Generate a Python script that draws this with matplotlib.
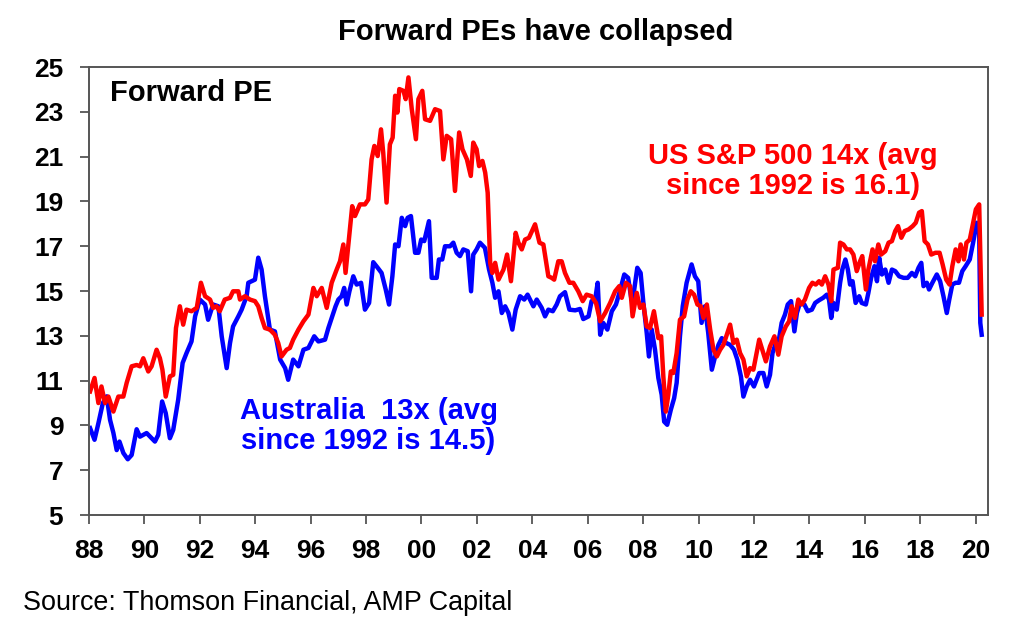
import matplotlib
matplotlib.use("Agg")
import matplotlib.pyplot as plt

# ---- data (decimal year, forward PE) ----
aus_years = [1988.04, 1988.2, 1988.34, 1988.5, 1988.64, 1988.76, 1988.88, 1989.0, 1989.1, 1989.24,
             1989.4, 1989.54, 1989.72, 1989.84, 1990.08, 1990.26, 1990.38, 1990.5, 1990.64, 1990.77,
             1990.92, 1991.04, 1991.22, 1991.38, 1991.52, 1991.7, 1991.83, 1992.0, 1992.19, 1992.3,
             1992.48, 1992.67, 1992.79, 1992.97, 1993.09, 1993.2, 1993.39, 1993.51, 1993.69, 1993.75,
             1993.99, 1994.11, 1994.23, 1994.35, 1994.53, 1994.71, 1994.9, 1995.08, 1995.19, 1995.37,
             1995.56, 1995.74, 1995.92,
             1996.13, 1996.28, 1996.52, 1996.64, 1996.76, 1996.9, 1997.0, 1997.12, 1997.21, 1997.3,
             1997.4, 1997.54, 1997.66, 1997.82, 1997.96, 1998.11, 1998.26, 1998.42, 1998.56, 1998.71,
             1998.83, 1998.95, 1999.05, 1999.17, 1999.29, 1999.41, 1999.5, 1999.62, 1999.77, 1999.89,
             1999.99, 2000.1, 2000.27, 2000.37, 2000.55, 2000.63, 2000.75, 2000.85, 2001.03, 2001.15,
             2001.27, 2001.39, 2001.51, 2001.67, 2001.79, 2001.87, 2001.99, 2002.11, 2002.29, 2002.44,
             2002.56, 2002.66, 2002.78, 2002.9, 2003.02, 2003.14, 2003.28, 2003.4, 2003.56, 2003.71,
             2003.83,
             2004.04, 2004.16, 2004.34, 2004.46, 2004.58, 2004.74, 2004.88, 2005.0, 2005.18, 2005.34,
             2005.55, 2005.72, 2005.84, 2006.03, 2006.14, 2006.26, 2006.36, 2006.45, 2006.56, 2006.71,
             2006.87, 2007.02, 2007.16, 2007.32, 2007.46, 2007.58, 2007.67, 2007.79, 2007.91, 2008.01,
             2008.13, 2008.21, 2008.31, 2008.43, 2008.55, 2008.67, 2008.76, 2008.87, 2009.0, 2009.12,
             2009.21, 2009.33, 2009.43, 2009.57, 2009.75, 2009.87, 2009.99, 2010.11, 2010.23, 2010.35,
             2010.48, 2010.6, 2010.72, 2010.84, 2011.0, 2011.14, 2011.28, 2011.4, 2011.53, 2011.62,
             2011.74, 2011.86, 2012.0,
             2012.19, 2012.34, 2012.46, 2012.58, 2012.67, 2012.79, 2012.91, 2013.0, 2013.12, 2013.22,
             2013.34, 2013.46, 2013.55, 2013.66, 2013.82, 2013.94, 2014.09, 2014.21, 2014.35, 2014.5,
             2014.63, 2014.71, 2014.79, 2014.87, 2014.99, 2015.11, 2015.19, 2015.3, 2015.39, 2015.47,
             2015.56, 2015.67, 2015.8, 2015.89, 2016.04, 2016.13, 2016.23, 2016.35, 2016.44, 2016.52,
             2016.62, 2016.74, 2016.86, 2016.98, 2017.1, 2017.24, 2017.4, 2017.55, 2017.7, 2017.82,
             2017.94, 2018.04, 2018.12, 2018.24, 2018.32, 2018.44, 2018.6, 2018.72, 2018.84, 2018.96,
             2019.05, 2019.16, 2019.28, 2019.4, 2019.52, 2019.64, 2019.79, 2019.91, 2020.04, 2020.13,
             2020.17, 2020.22]
aus_pe = [8.88, 8.36, 9.1, 10.0, 10.3, 9.25, 8.67, 7.9, 8.28, 7.77,
          7.49, 7.68, 8.83, 8.5, 8.66, 8.43, 8.28, 8.58, 10.07, 9.55,
          8.43, 8.8, 10.15, 11.79, 12.23, 12.75, 13.87, 14.62, 14.4, 13.72,
          14.4, 14.32, 12.98, 11.56, 12.68, 13.42, 13.87, 14.17, 14.77, 15.37,
          15.51, 16.49, 15.96, 14.77, 13.28, 13.2, 11.94, 11.56, 11.04, 11.94,
          11.64, 12.38, 12.46,
          12.98, 12.75, 12.83, 13.35, 13.8, 14.32, 14.62, 14.77, 15.14, 14.4,
          14.99, 15.66, 15.29, 15.37, 14.17, 14.47, 16.29, 16.04, 15.81, 15.07,
          14.4, 15.66, 17.08, 17.0, 18.27, 17.9, 18.27, 18.35, 16.71, 16.71,
          17.3, 17.23, 18.12, 15.59, 15.59, 16.41, 16.41, 17.0, 17.0, 17.16,
          16.71, 16.56, 16.86, 16.78, 14.99, 16.63, 16.86, 17.16, 16.93, 15.96,
          15.37, 14.7, 14.99, 14.02, 14.32, 14.02, 13.28, 14.17, 14.77, 14.62,
          14.84,
          14.32, 14.62, 14.25, 13.87, 14.17, 14.1, 14.4, 14.77, 14.95, 14.17,
          14.14, 14.2, 13.75, 13.87, 14.55, 14.55, 15.37, 13.05, 13.58, 13.28,
          14.1, 14.4, 14.99, 15.74, 15.59, 14.62, 14.99, 16.04, 15.81, 14.47,
          13.13, 12.08, 13.28, 12.38, 11.12, 10.37, 9.17, 9.03, 9.7, 10.22,
          10.9, 12.98, 14.32, 15.37, 16.19, 15.66, 15.44, 13.58, 14.32, 13.13,
          11.49, 12.08, 12.6, 12.9, 12.68, 12.6, 12.38, 11.94, 11.19, 10.29,
          10.74, 11.04, 10.74,
          11.34, 11.34, 10.74, 11.26, 12.23, 12.68, 12.9, 13.58, 13.95, 14.4,
          14.55, 13.2, 14.02, 14.47, 14.4, 14.1, 14.17, 14.47, 14.59, 14.7,
          14.84, 14.62, 13.8, 14.47, 14.17, 15.37, 15.96, 16.41, 15.96, 15.29,
          15.44, 14.47, 14.77, 14.47, 14.4, 14.92, 15.59, 16.11, 15.44, 16.49,
          15.74, 15.96, 15.37, 15.96, 15.89, 15.66, 15.59, 15.59, 15.81, 15.66,
          16.04, 16.26, 15.22, 15.37, 15.07, 15.37, 15.74, 15.44, 14.77, 14.02,
          14.62, 15.29, 15.37, 15.37, 15.89, 16.11, 16.41, 17.16, 18.05, 17.6,
          13.58, 13.05]

us_years = [1988.04, 1988.2, 1988.34, 1988.45, 1988.58, 1988.7, 1988.88, 1989.06, 1989.24, 1989.36,
            1989.54, 1989.72, 1989.84, 1989.96, 1990.14, 1990.26, 1990.44, 1990.56, 1990.65, 1990.77,
            1990.92, 1991.04, 1991.14, 1991.28, 1991.4, 1991.52, 1991.7, 1991.89, 1992.04, 1992.19,
            1992.37, 1992.48, 1992.6, 1992.72, 1992.9, 1993.09, 1993.2, 1993.39, 1993.45, 1993.63,
            1993.81, 1993.99, 1994.11, 1994.23, 1994.35, 1994.53, 1994.71, 1994.83, 1994.95, 1995.13,
            1995.25, 1995.37, 1995.56, 1995.74, 1995.92,
            1996.1, 1996.22, 1996.4, 1996.58, 1996.76, 1996.94, 1997.06, 1997.18, 1997.26, 1997.38,
            1997.5, 1997.6, 1997.78, 1997.96, 1998.08, 1998.2, 1998.3, 1998.42, 1998.54, 1998.62,
            1998.74, 1998.86, 1998.96, 1999.05, 1999.13, 1999.2, 1999.35, 1999.43, 1999.53, 1999.65,
            1999.8, 1999.89, 2000.03, 2000.13, 2000.31, 2000.49, 2000.67, 2000.79, 2000.91, 2001.07,
            2001.21, 2001.36, 2001.48, 2001.64, 2001.78, 2001.87, 2001.99, 2002.08, 2002.2, 2002.3,
            2002.39, 2002.48, 2002.56, 2002.66, 2002.78, 2002.96, 2003.09, 2003.23, 2003.4, 2003.5,
            2003.62, 2003.74, 2003.88,
            2004.1, 2004.26, 2004.4, 2004.58, 2004.7, 2004.79, 2004.94, 2005.06, 2005.18, 2005.34,
            2005.48, 2005.66, 2005.82, 2005.96, 2006.14, 2006.3, 2006.45, 2006.63, 2006.81, 2006.99,
            2007.14, 2007.23, 2007.38, 2007.53, 2007.62, 2007.77, 2007.89, 2008.01, 2008.13, 2008.25,
            2008.39, 2008.55, 2008.65, 2008.73, 2008.82, 2008.91, 2009.0, 2009.09, 2009.21, 2009.33,
            2009.48, 2009.6, 2009.72, 2009.84, 2009.96, 2010.08, 2010.18, 2010.3, 2010.42, 2010.54,
            2010.66, 2010.78, 2010.9, 2011.02, 2011.14, 2011.26, 2011.38, 2011.5, 2011.62, 2011.74,
            2011.86, 2011.98,
            2012.19, 2012.3, 2012.43, 2012.58, 2012.74, 2012.88, 2013.0, 2013.15, 2013.27, 2013.36,
            2013.48, 2013.6, 2013.72, 2013.84, 2013.99, 2014.11, 2014.23, 2014.35, 2014.45, 2014.57,
            2014.69, 2014.79, 2014.87, 2015.03, 2015.11, 2015.23, 2015.35, 2015.47, 2015.59, 2015.71,
            2015.83, 2015.91, 2016.04, 2016.13, 2016.28, 2016.37, 2016.49, 2016.59, 2016.74, 2016.86,
            2016.98, 2017.1, 2017.2, 2017.32, 2017.44, 2017.58, 2017.73, 2017.84, 2017.96, 2018.06,
            2018.16, 2018.28, 2018.4, 2018.55, 2018.7, 2018.81, 2018.94, 2019.06, 2019.16, 2019.28,
            2019.38, 2019.46, 2019.58, 2019.67, 2019.79, 2019.91, 2020.01, 2020.13, 2020.22]
us_pe = [10.52, 11.12, 10.0, 10.74, 10.0, 10.29, 9.62, 10.29, 10.29, 10.9,
         11.64, 11.7, 11.64, 12.0, 11.41, 11.64, 12.38, 12.0, 11.49, 10.29,
         11.19, 11.26, 13.35, 14.32, 13.5, 14.17, 14.1, 14.25, 15.37, 14.77,
         14.62, 14.25, 14.32, 14.1, 14.62, 14.7, 14.99, 14.99, 14.62, 14.77,
         14.62, 14.55, 14.32, 13.8, 13.35, 13.28, 13.05, 12.68, 12.08, 12.38,
         12.46, 12.83, 13.28, 13.65, 13.95,
         15.14, 14.77, 15.14, 14.25, 15.37, 15.96, 16.33, 17.08, 15.81, 17.3,
         18.79, 18.35, 18.87, 18.87, 19.09, 20.88, 21.48, 21.03, 22.22, 21.18,
         18.95, 21.55, 21.85, 23.72, 22.97, 24.02, 23.94, 23.57, 24.54, 23.12,
         21.78, 23.57, 23.94, 22.67, 22.6, 23.12, 23.04, 20.88, 21.93, 21.78,
         19.47, 22.08, 21.33, 20.88, 20.14, 21.63, 21.33, 20.58, 20.81, 20.29,
         19.39, 16.26, 15.81, 16.26, 15.51, 15.96, 16.63, 15.44, 17.6, 17.16,
         16.86, 17.3, 17.38,
         17.98, 17.16, 17.08, 15.66, 15.59, 15.51, 16.33, 16.33, 15.81, 15.37,
         15.37, 14.99, 14.55, 14.84, 14.77, 14.47, 13.65, 14.02, 14.47, 14.99,
         15.22, 14.7, 15.37, 15.22, 13.87, 14.92, 14.25, 14.4, 13.42, 13.35,
         14.1, 12.9, 12.98, 11.19, 9.62, 10.37, 11.41, 11.34, 12.23, 13.72,
         13.87, 14.62, 14.99, 14.84, 14.4, 14.32, 13.8, 14.4, 13.28, 12.38,
         12.08, 12.38, 12.6, 13.05, 13.5, 12.68, 12.83, 12.23, 11.94, 11.19,
         11.56, 11.49,
         12.83, 12.38, 11.86, 12.53, 12.98, 12.16, 12.98, 13.42, 13.65, 14.32,
         13.8, 14.62, 14.4, 14.62, 15.14, 15.37, 15.29, 15.44, 15.29, 15.66,
         15.29, 14.55, 15.96, 16.04, 17.16, 17.08, 16.86, 16.86, 16.63, 15.89,
         16.33, 16.56, 15.07, 15.96, 16.86, 16.33, 17.08, 16.63, 16.78, 17.16,
         17.23, 17.68, 17.9, 17.38, 17.68, 17.75, 17.9, 18.05, 18.5, 18.57,
         17.23, 17.08, 16.63, 16.71, 16.71, 16.19, 15.51, 15.29, 16.11, 16.86,
         16.33, 17.08, 16.41, 17.16, 17.3, 18.05, 18.65, 18.87, 13.95]

y_ticks = [5, 7, 9, 11, 13, 15, 17, 19, 21, 23, 25]
x_ticks = list(range(1988, 2021, 2))
x_labels = ["88", "90", "92", "94", "96", "98", "00", "02", "04", "06",
            "08", "10", "12", "14", "16", "18", "20"]

plt.rcParams['font.family'] = ['Liberation Sans', 'DejaVu Sans']

fig = plt.figure(figsize=(10.24, 6.39), dpi=100)
ax = fig.add_axes([0.0869, 0.194, 0.878, 0.701])

ax.plot(aus_years, aus_pe, color='#0000ff', lw=3.2, solid_joinstyle='round')
ax.plot(us_years, us_pe, color='#ff0000', lw=3.2, solid_joinstyle='round')

ax.set_xlim(1988, 2020.45)
ax.set_ylim(5, 25)
ax.set_yticks(y_ticks)
ax.set_yticklabels([str(v) for v in y_ticks], fontsize=19, fontweight='bold')
ax.set_xticks(x_ticks)
ax.set_xticklabels(x_labels, fontsize=19, fontweight='bold')
ax.tick_params(axis='both', direction='out', length=6.5, width=1.3, color='#555555')
ax.tick_params(axis='x', pad=11)
ax.tick_params(axis='y', pad=12)
for s in ax.spines.values():
    s.set_color('#555555')
    s.set_linewidth(1.4)

ax.text(0.0234, 0.943, "Forward PE", transform=ax.transAxes, fontsize=21,
        fontweight='bold', color='black', va='center', ha='left')
ax.text(0.311, 0.198, "Australia  13x (avg\nsince 1992 is 14.5)", transform=ax.transAxes,
        fontsize=21, fontweight='bold', color='#0000ff', ha='center', va='center',
        multialignment='center', linespacing=1.08)
ax.text(0.783, 0.768, "US S&P 500 14x (avg\nsince 1992 is 16.1)", transform=ax.transAxes,
        fontsize=21, fontweight='bold', color='#ff0000', ha='center', va='center',
        multialignment='center', linespacing=1.12)

fig.text(0.5235, 0.950, "Forward PEs have collapsed", fontsize=21, fontweight='bold',
         ha='center', va='center', color='black')
fig.text(0.022, 0.056, "Source: Thomson Financial, AMP Capital", fontsize=19.4,
         ha='left', va='center', color='black')

fig.savefig("out.png", dpi=100)
